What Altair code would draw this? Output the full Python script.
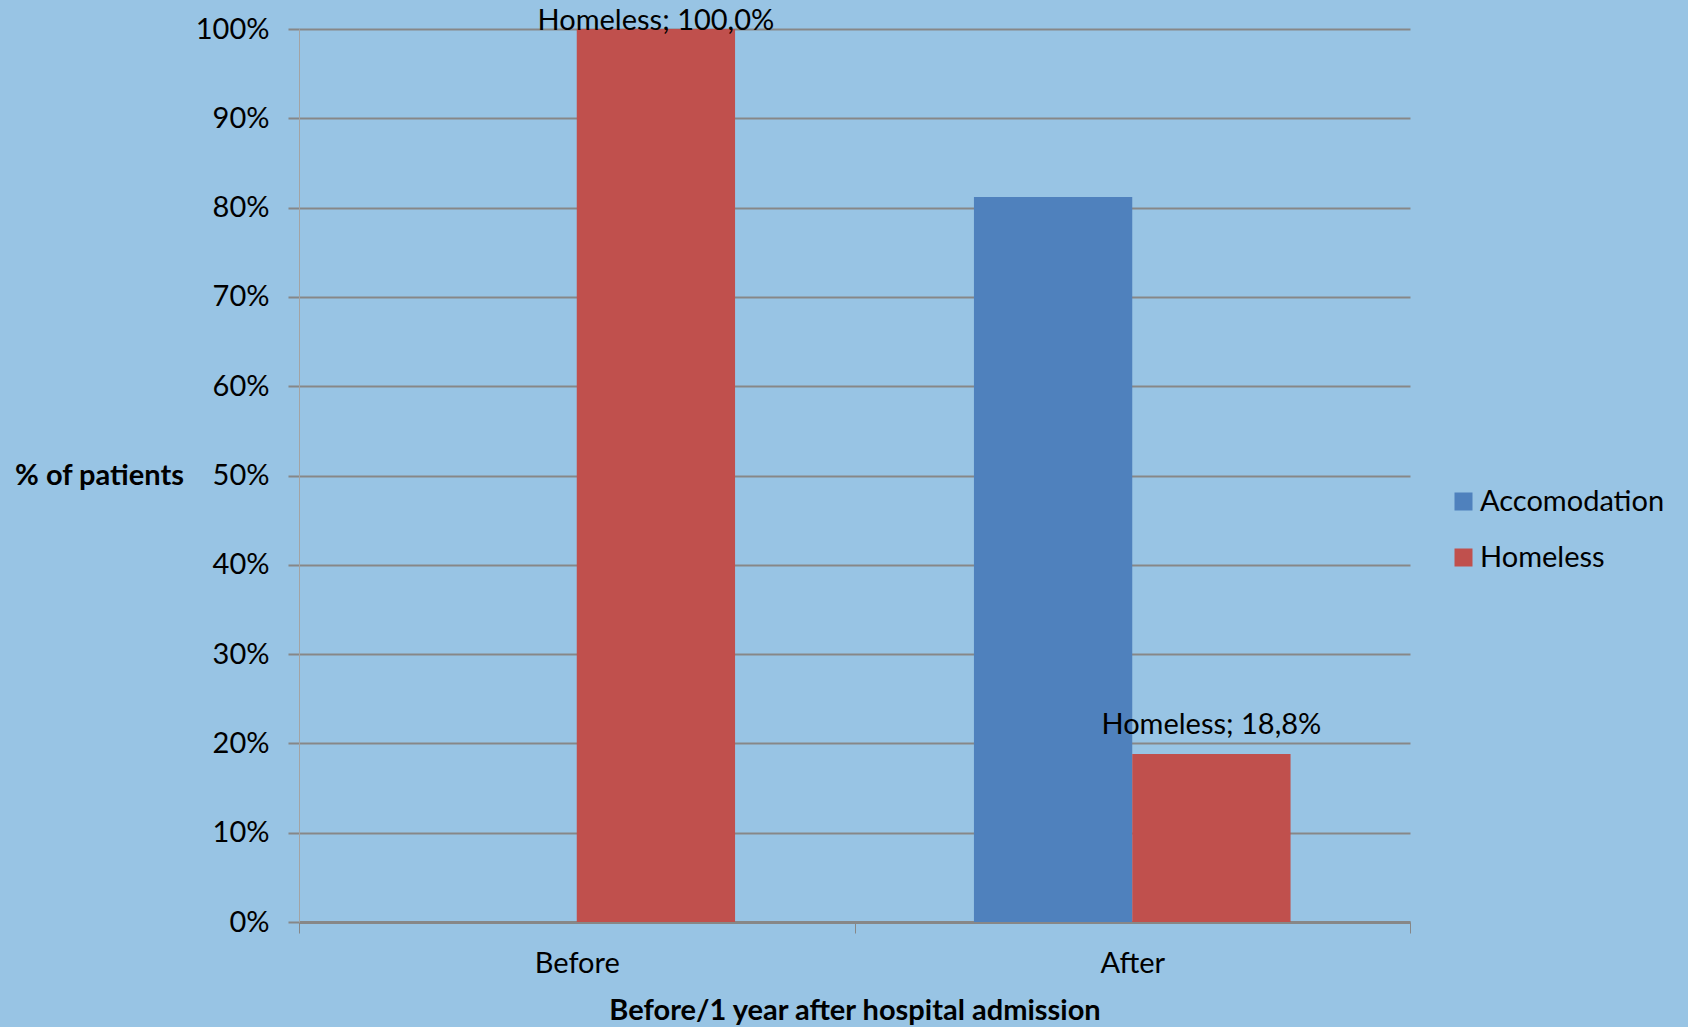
import altair as alt
import pandas as pd

# Share of patients by housing status, before and 1 year after hospital admission
periods = ["Before", "After"]
series = ["Accomodation", "Homeless"]
accomodation_pct = [0.0, 81.2]
homeless_pct = [100.0, 18.8]
y_ticks = [0, 10, 20, 30, 40, 50, 60, 70, 80, 90, 100]

rows = []
for i, p in enumerate(periods):
    rows.append({"period": p, "series": "Accomodation", "value": accomodation_pct[i]})
    rows.append({"period": p, "series": "Homeless", "value": homeless_pct[i]})
df = pd.DataFrame(rows)
df["label"] = [f"{s}; {v:.1f}%".replace(".", ",") for s, v in zip(df["series"], df["value"])]

FONT = "Lato"
BG = "#98C4E4"
GRID = "#878787"
FS = 29

x_enc = alt.X(
    "period:N",
    sort=periods,
    scale=alt.Scale(paddingInner=0, paddingOuter=0),
    axis=alt.Axis(
        title="Before/1 year after hospital admission",
        labelAngle=0,
        tickBand="extent",
        tickSize=11,
        tickColor=GRID,
        tickWidth=1,
        domainColor=GRID,
        domainWidth=3,
        labelFont=FONT,
        labelFontSize=FS,
        labelColor="#000000",
        labelPadding=16,
        titleFont=FONT,
        titleFontSize=FS,
        titleFontWeight="bold",
        titleColor="#000000",
        titleBaseline="top",
        titleY=74,
    ),
)
xo_enc = alt.XOffset("series:N", sort=series, scale=alt.Scale(paddingInner=0, paddingOuter=0.7545))
y_enc = alt.Y(
    "value:Q",
    scale=alt.Scale(domain=[0, 100], nice=False),
    axis=alt.Axis(
        values=y_ticks,
        labelExpr="datum.value + '%'",
        grid=True,
        gridColor=GRID,
        gridWidth=2,
        tickSize=11,
        tickColor=GRID,
        tickWidth=2,
        domainColor="#a3a3a3",
        domainWidth=1,
        labelFont=FONT,
        labelFontSize=FS,
        labelColor="#000000",
        labelPadding=19,
        title="% of patients",
        titleAngle=0,
        titleX=-200,
        titleY=446.5,
        titleAlign="center",
        titleBaseline="middle",
        titleFont=FONT,
        titleFontSize=FS,
        titleFontWeight="bold",
        titleColor="#000000",
    ),
)
color_enc = alt.Color(
    "series:N",
    scale=alt.Scale(domain=series, range=["#4F81BD", "#C0504D"]),
    legend=alt.Legend(
        title=None,
        orient="none",
        legendX=1150,
        legendY=458,
        symbolType="square",
        symbolSize=324,
        symbolStrokeWidth=0,
        symbolOpacity=1,
        labelFont=FONT,
        labelFontSize=FS,
        labelColor="#000000",
        labelOffset=2,
        labelLimit=400,
        rowPadding=26,
    ),
)

base = alt.Chart(df)

bars = base.mark_bar(opacity=1).encode(x=x_enc, xOffset=xo_enc, y=y_enc, color=color_enc)

label_top = (
    base.transform_filter("datum.series == 'Homeless' && datum.value >= 99")
    .mark_text(font=FONT, fontSize=FS, baseline="alphabetic", align="center", dy=1, color="#000000")
    .encode(x=alt.X("period:N", sort=periods), xOffset=alt.XOffset("series:N", sort=series),
            y="value:Q", text="label:N")
)
label_low = (
    base.transform_filter("datum.series == 'Homeless' && datum.value < 99")
    .mark_text(font=FONT, fontSize=FS, baseline="alphabetic", align="center", dy=-20, color="#000000")
    .encode(x=alt.X("period:N", sort=periods), xOffset=alt.XOffset("series:N", sort=series),
            y="value:Q", text="label:N")
)

chart = (
    alt.layer(bars, label_top, label_low)
    .properties(
        width=1111,
        height=893,
        padding={"left": 299, "top": 29, "right": 278, "bottom": 105},
        autosize=alt.AutoSizeParams(type="none"),
        background=BG,
    )
    .configure(font=FONT)
    .configure_view(fill=BG, strokeWidth=0)
)

chart.save("out.html", embed_options={"renderer": "svg", "actions": False})
